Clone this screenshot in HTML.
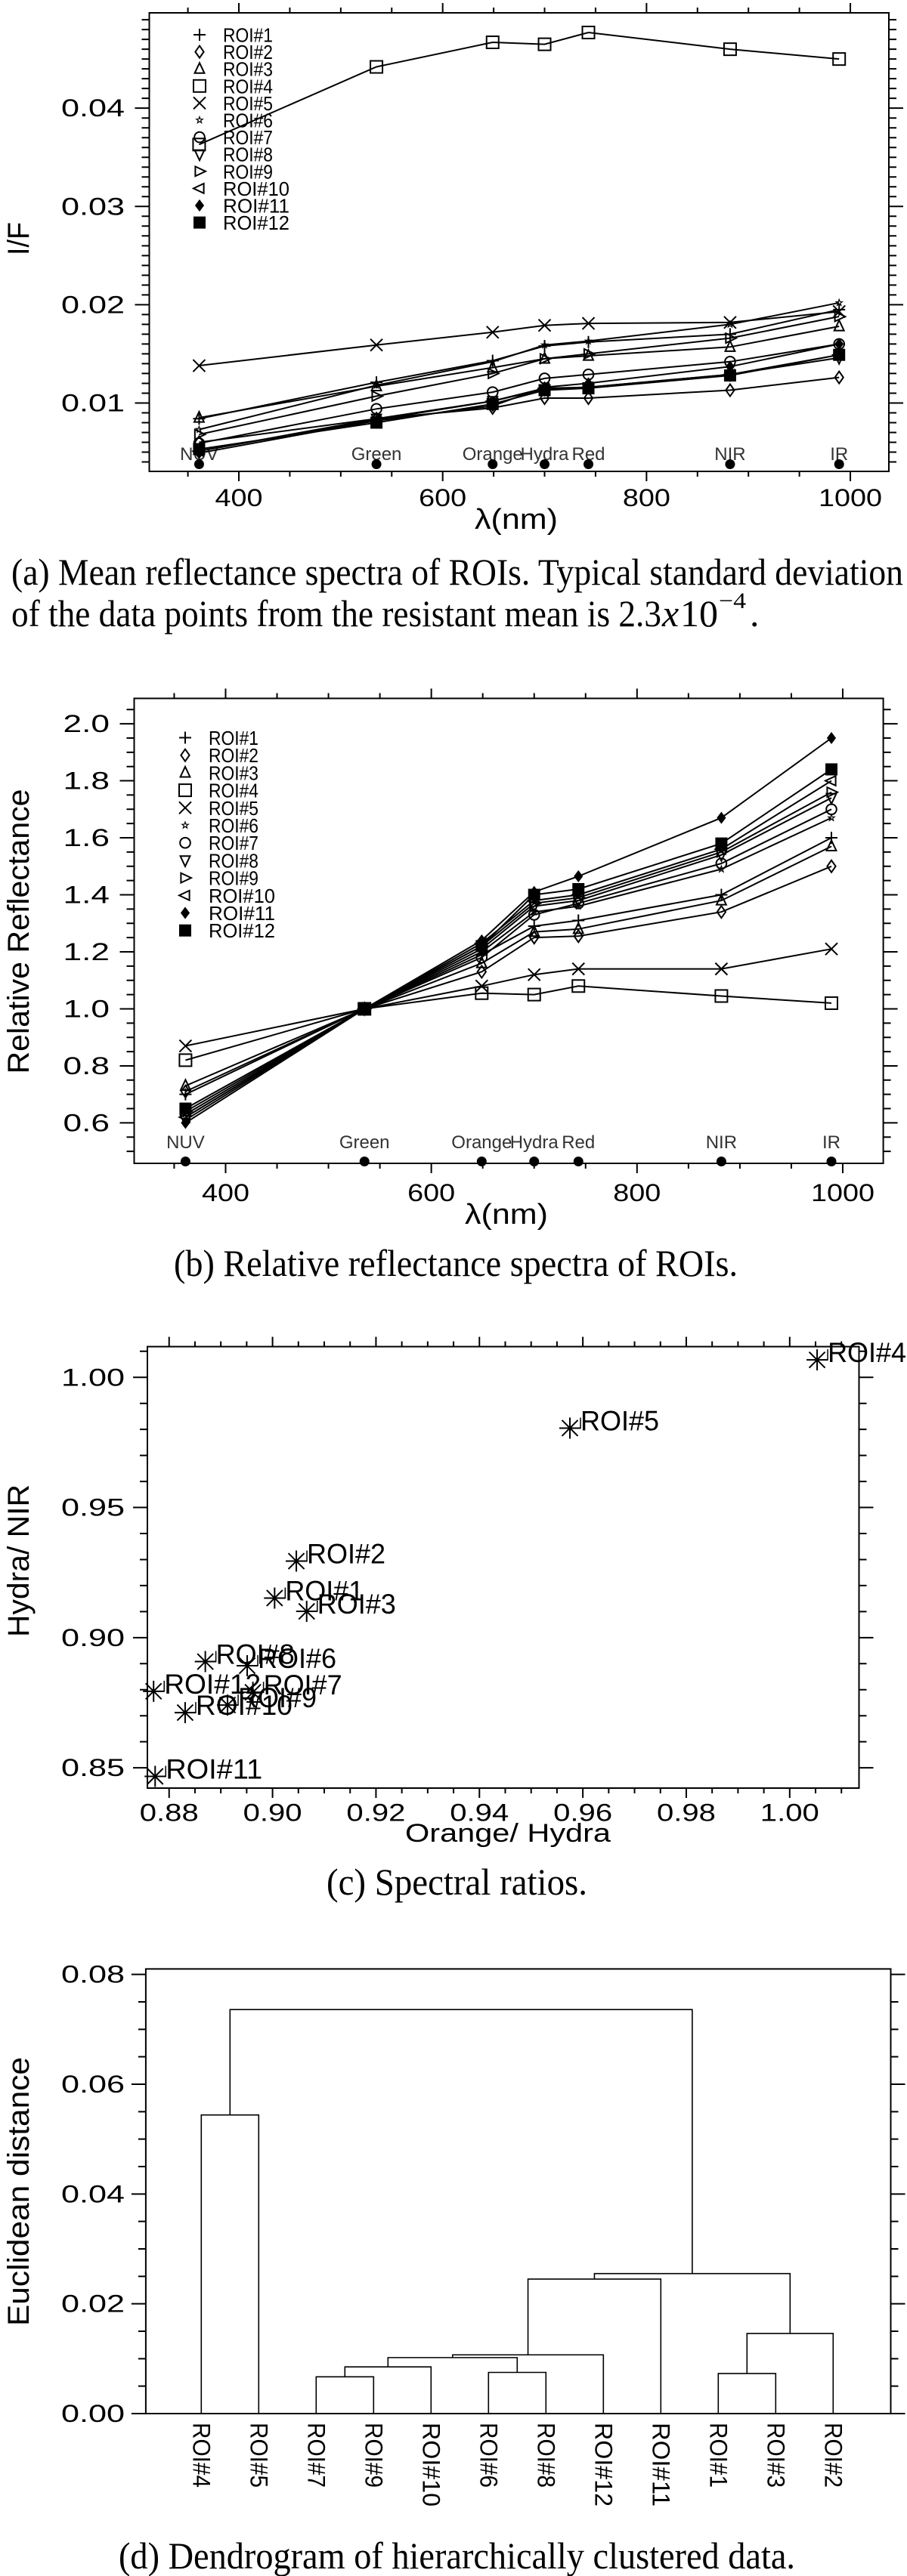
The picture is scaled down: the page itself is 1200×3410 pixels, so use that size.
<!DOCTYPE html>
<html>
<head>
<meta charset="utf-8">
<style>
  html, body { margin: 0; padding: 0; background: #fff; }
  svg { display: block; }
  text { font-family: "Liberation Sans", sans-serif; fill: #000; }
  .cap { font-family: "Liberation Serif", serif; }
</style>
</head>
<body>
<svg id="fig" xmlns="http://www.w3.org/2000/svg" width="1200" height="3410" viewBox="0 0 1200 3410"></svg>
<script>
// ---------- DATA ----------
const bands = ['NUV', 'Green', 'Orange', 'Hydra', 'Red', 'NIR', 'IR'];
const wavelengths = [361, 535, 649, 700, 743, 882, 989];
const roiNames = ['ROI#1','ROI#2','ROI#3','ROI#4','ROI#5','ROI#6','ROI#7','ROI#8','ROI#9','ROI#10','ROI#11','ROI#12'];
const markerTypes = ['plus','diamond','triUp','square','cross','star','circle','triDown','triRight','triLeft','fdiamond','fsquare'];

// (a) mean I/F per ROI
const ifRoi1  = [0.0084, 0.0121, 0.0143, 0.0158, 0.0162, 0.0170, 0.0195];
const ifRoi2  = [0.0060, 0.0084, 0.0095, 0.0105, 0.0105, 0.0113, 0.0126];
const ifRoi3  = [0.0085, 0.0117, 0.0136, 0.0145, 0.0148, 0.0157, 0.0178];
const ifRoi4  = [0.0363, 0.0442, 0.0467, 0.0465, 0.0477, 0.0460, 0.0450];
const ifRoi5  = [0.0138, 0.0159, 0.0172, 0.0179, 0.0181, 0.0182, 0.0193];
const ifRoi6  = [0.0073, 0.0118, 0.0142, 0.0159, 0.0163, 0.0180, 0.0202];
const ifRoi7  = [0.0059, 0.0094, 0.0111, 0.0125, 0.0129, 0.0142, 0.0160];
const ifRoi8  = [0.0051, 0.0084, 0.0102, 0.0114, 0.0116, 0.0129, 0.0146];
const ifRoi9  = [0.0068, 0.0107, 0.0130, 0.0145, 0.0150, 0.0166, 0.0188];
const ifRoi10 = [0.0051, 0.0083, 0.0102, 0.0115, 0.0116, 0.0129, 0.0149];
const ifRoi11 = [0.0049, 0.0082, 0.0097, 0.0116, 0.0120, 0.0137, 0.0160];
const ifRoi12 = [0.0053, 0.0080, 0.0099, 0.0113, 0.0115, 0.0128, 0.0149];

// (b) relative reflectance per ROI
const relRoi1  = [0.70, 1.0, 1.19, 1.29, 1.31, 1.40, 1.60];
const relRoi2  = [0.71, 1.0, 1.13, 1.25, 1.255, 1.34, 1.50];
const relRoi3  = [0.73, 1.0, 1.16, 1.27, 1.28, 1.38, 1.57];
const relRoi4  = [0.82, 1.0, 1.055, 1.05, 1.08, 1.045, 1.02];
const relRoi5  = [0.87, 1.0, 1.08, 1.12, 1.14, 1.14, 1.21];
const relRoi6  = [0.62, 1.0, 1.20, 1.34, 1.36, 1.49, 1.67];
const relRoi7  = [0.63, 1.0, 1.18, 1.33, 1.37, 1.51, 1.70];
const relRoi8  = [0.61, 1.0, 1.21, 1.36, 1.38, 1.54, 1.74];
const relRoi9  = [0.64, 1.0, 1.22, 1.37, 1.39, 1.55, 1.76];
const relRoi10 = [0.62, 1.0, 1.23, 1.38, 1.40, 1.56, 1.80];
const relRoi11 = [0.60, 1.0, 1.24, 1.41, 1.465, 1.67, 1.95];
const relRoi12 = [0.65, 1.0, 1.22, 1.40, 1.42, 1.58, 1.84];

// (c) spectral ratios
const ratioOrangeHydra = [0.9004, 0.9046, 0.9066, 1.0053, 0.9575, 0.8951, 0.8962, 0.8870, 0.8913, 0.8831, 0.8773, 0.8770];
const ratioHydraNir    = [0.9152, 0.9294, 0.9101, 1.0067, 0.9805, 0.8892, 0.8790, 0.8908, 0.8741, 0.8712, 0.8467, 0.8794];

// (d) dendrogram
const leafOrder = ['R4','R5','R7','R9','R10','R6','R8','R12','R11','R1','R3','R2'];
const leafLabels = ['ROI#4','ROI#5','ROI#7','ROI#9','ROI#10','ROI#6','ROI#8','ROI#12','ROI#11','ROI#1','ROI#3','ROI#2'];
const mergeA = ['R4','R7','C1','R6','C2','C4','C5','R1','C7','C6','C0'];
const mergeB = ['R5','R9','R10','R8','C3','R12','R11','R3','R2','C8','C9'];
const mergeHeight = [0.0544, 0.0067, 0.0085, 0.0075, 0.0102, 0.0107, 0.0245, 0.0073, 0.0146, 0.0255, 0.0736];

// tick labels
const xTicksNm = [400, 600, 800, 1000];
const xTickLabelsNm = ['400', '600', '800', '1000'];
const yTicksA = [0.01, 0.02, 0.03, 0.04];
const yTickLabelsA = ['0.01', '0.02', '0.03', '0.04'];
const yTicksB = [0.6, 0.8, 1.0, 1.2, 1.4, 1.6, 1.8, 2.0];
const yTickLabelsB = ['0.6', '0.8', '1.0', '1.2', '1.4', '1.6', '1.8', '2.0'];
const xTicksC = [0.88, 0.90, 0.92, 0.94, 0.96, 0.98, 1.00];
const xTickLabelsC = ['0.88', '0.90', '0.92', '0.94', '0.96', '0.98', '1.00'];
const yTicksC = [0.85, 0.90, 0.95, 1.00];
const yTickLabelsC = ['0.85', '0.90', '0.95', '1.00'];
const yTicksD = [0.00, 0.02, 0.04, 0.06, 0.08];
const yTickLabelsD = ['0.00', '0.02', '0.03', '0.06', '0.08'];
yTickLabelsD[2] = '0.04';

// ---------- HELPERS ----------
const NS = 'http://www.w3.org/2000/svg';
const svg = document.getElementById('fig');
function mk(tag, attrs, parent) {
  const e = document.createElementNS(NS, tag);
  for (const k in attrs) e.setAttribute(k, attrs[k]);
  (parent || svg).appendChild(e);
  return e;
}
function lin(d0, d1, p0, p1) { return v => p0 + (v - d0) / (d1 - d0) * (p1 - p0); }
function txt(parent, s, x, y, size, anchor, len, extra) {
  const a = { x: x, y: y, 'font-size': size, 'text-anchor': anchor || 'start' };
  if (len) { a.textLength = len; a.lengthAdjust = 'spacingAndGlyphs'; }
  if (extra) for (const k in extra) a[k] = extra[k];
  const t = mk('text', a, parent);
  t.textContent = s;
  return t;
}
function ticksOf(min, max, step) {
  const out = [];
  for (let i = Math.ceil(min / step - 1e-9); i <= Math.floor(max / step + 1e-9); i++) out.push(+(i * step).toFixed(6));
  return out;
}
function isMajor(v, majors) { return majors.some(m => Math.abs(m - v) < 1e-6); }

function marker(g, type, x, y, s) {
  const st = { fill: 'none', stroke: '#000', 'stroke-width': 2 };
  let e;
  const P = (pts) => mk('polygon', Object.assign({ points: pts.map(p => p.join(',')).join(' ') }, st), g);
  switch (type) {
    case 'plus': e = mk('path', Object.assign({ d: `M${x-s},${y}H${x+s}M${x},${y-s}V${y+s}` }, st), g); break;
    case 'cross': e = mk('path', Object.assign({ d: `M${x-s},${y-s}L${x+s},${y+s}M${x-s},${y+s}L${x+s},${y-s}` }, st), g); break;
    case 'diamond': e = P([[x, y-s], [x+s*0.7, y], [x, y+s], [x-s*0.7, y]]); break;
    case 'fdiamond': e = P([[x, y-s*0.8], [x+s*0.6, y], [x, y+s*0.8], [x-s*0.6, y]]); e.setAttribute('fill', '#000'); break;
    case 'triUp': e = P([[x, y-s], [x+s*0.8, y+s*0.7], [x-s*0.8, y+s*0.7]]); break;
    case 'triDown': e = P([[x, y+s], [x+s*0.8, y-s*0.7], [x-s*0.8, y-s*0.7]]); break;
    case 'triRight': e = P([[x+s, y], [x-s*0.7, y-s*0.8], [x-s*0.7, y+s*0.8]]); break;
    case 'triLeft': e = P([[x-s, y], [x+s*0.7, y-s*0.8], [x+s*0.7, y+s*0.8]]); break;
    case 'square': e = mk('rect', Object.assign({ x: x-s, y: y-s, width: 2*s, height: 2*s }, st), g); break;
    case 'fsquare': e = mk('rect', { x: x-s, y: y-s, width: 2*s, height: 2*s, fill: '#000' }, g); break;
    case 'circle': e = mk('circle', Object.assign({ cx: x, cy: y, r: s*0.85 }, st), g); break;
    case 'star': {
      const pts = [];
      for (let i = 0; i < 10; i++) {
        const r = (i % 2 === 0) ? s*0.55 : s*0.22;
        const a = -Math.PI/2 + i*Math.PI/5;
        pts.push([+(x + r*Math.cos(a)).toFixed(2), +(y + r*Math.sin(a)).toFixed(2)]);
      }
      e = mk('polygon', { points: pts.map(p => p.join(',')).join(' '), fill: 'none', stroke: '#000', 'stroke-width': 1.2 }, g);
      break;
    }
  }
  return e;
}

function frame(g, box, name) {
  const r = mk('rect', { x: box.x0, y: box.y0, width: box.x1 - box.x0, height: box.y1 - box.y0, fill: 'none', stroke: '#000', 'stroke-width': 2 }, g);
  
  
}
// outward ticks
function xTickMarks(g, box, xs, min, max, majorVals, minorStep, labels, labelY, labelLen, name) {
  const all = ticksOf(min, max, minorStep);
  all.forEach(v => {
    const x = xs(v);
    const maj = isMajor(v, majorVals);
    const L = maj ? 13 : 7;
    const t = mk('path', { d: `M${x},${box.y0}V${box.y0-L}M${x},${box.y1}V${box.y1+L}`, stroke: '#000', 'stroke-width': 2 }, g);
    
    
  });
  majorVals.forEach((v, i) => {
    const t = txt(g, labels[i], xs(v), labelY, 32, 'middle', labels[i].length * labelLen);
    
    
  });
}
function yTickMarks(g, box, ys, min, max, majorVals, minorStep, labels, labelX, labelLen, name) {
  const all = ticksOf(min, max, minorStep);
  all.forEach(v => {
    const y = ys(v);
    const maj = isMajor(v, majorVals);
    const L = maj ? 19 : 10;
    const t = mk('path', { d: `M${box.x0},${y}H${box.x0-L}M${box.x1},${y}H${box.x1+L}`, stroke: '#000', 'stroke-width': 2 }, g);
    
    
  });
  majorVals.forEach((v, i) => {
    const t = txt(g, labels[i], labelX, ys(v) + 11, 32, 'end', labels[i].length * labelLen);
    
    
  });
}
function yTitle(g, s, cx, cy, len) {
  const t = txt(g, s, 0, 0, 40, 'middle', len, { transform: `translate(${cx + 14},${cy}) rotate(-90)` });
  
  
}
function caption(s, x, y, len, name) {
  const t = txt(svg, s, x, y, 50, 'start', len, { class: 'cap' });
  
  
  return t;
}

// ---------- spectra panels ----------
function spectraPanel(name, box, xd, yd, seriesArr, yTicks, yLabels, yMinor, yLabelX, bandY, dotY, legendY0, legendStep, legendX, xLabY, lamY, lamX) {
  const g = mk('g', {});
  
  
  const xs = lin(xd[0], xd[1], box.x0, box.x1);
  const ys = lin(yd[0], yd[1], box.y1, box.y0);
  frame(g, box, 'plot-frame');
  xTickMarks(g, box, xs, xd[0], xd[1], xTicksNm, 50, xTickLabelsNm, xLabY, 21, name);
  yTickMarks(g, box, ys, yd[0], yd[1], yTicks, yMinor, yLabels, yLabelX, name === 'panel-a' ? 21 : 20.5, name);
  const lam = txt(g, 'λ(nm)', lamX, lamY, 38, 'middle', 110);
  
  
  // band labels & dots
  bands.forEach((b, i) => {
    const x = xs(wavelengths[i]);
    const t = txt(g, b, x, bandY, 24, 'middle', null, { fill: '#222' });
    t.style.fill = '#333';
    
    
    const d = mk('circle', { cx: x, cy: dotY, r: 6.5, fill: '#000' }, g);
    
    
  });
  // series
  seriesArr.forEach((vals, si) => {
    const sg = mk('g', {}, g);
    
    
    const pts = vals.map((v, i) => xs(wavelengths[i]).toFixed(1) + ',' + ys(v).toFixed(1)).join(' ');
    const pl = mk('polyline', { points: pts, fill: 'none', stroke: '#000', 'stroke-width': 2 }, sg);
    
    
    vals.forEach((v, i) => {
      const m = marker(sg, markerTypes[si], xs(wavelengths[i]), ys(v), 8);
      
      
    });
  });
  // legend
  const lg = mk('g', {}, g);
  
  
  roiNames.forEach((n, i) => {
    const y = legendY0 + i * legendStep;
    const m = marker(lg, markerTypes[i], legendX, y, 8);
    
    
    const t = txt(lg, n, legendX + 31, y + 9.5, 26, 'start', n.length === 5 ? 66 : 88);
    
    
  });
  return g;
}

const seriesA = [ifRoi1, ifRoi2, ifRoi3, ifRoi4, ifRoi5, ifRoi6, ifRoi7, ifRoi8, ifRoi9, ifRoi10, ifRoi11, ifRoi12];
const seriesB = [relRoi1, relRoi2, relRoi3, relRoi4, relRoi5, relRoi6, relRoi7, relRoi8, relRoi9, relRoi10, relRoi11, relRoi12];

const gA = spectraPanel('panel-a', { x0: 197.5, y0: 17, x1: 1176, y1: 624 }, [312.1, 1037.8], [0.00304, 0.0497],
  seriesA, yTicksA, yTickLabelsA, 0.001, 165, 609, 614.5, 46, 22.6, 264, 670, 700, 683);
yTitle(gA, 'I/F', 24, 316, 44);

const gB = spectraPanel('panel-b', { x0: 177.5, y0: 924.5, x1: 1168.6, y1: 1540 }, [311.1, 1039.4], [0.458, 2.089],
  seriesB, yTicksB, yTickLabelsB, 0.05, 145, 1520, 1537.5, 976.5, 23.2, 245, 1590, 1620, 670);
yTitle(gB, 'Relative  Reflectance', 24, 1233, 377);

caption('(a) Mean reflectance spectra of ROIs. Typical standard deviation', 15, 774, 1180, 'caption-a-line-1');
const c2 = caption('of the data points from the resistant mean is 2.3', 15, 829, 860, 'caption-a-line-2');
const c2b = txt(svg, 'x', 876, 829, 50, 'start', null, { class: 'cap', 'font-style': 'italic' });


const c2c = txt(svg, '10', 900, 829, 50, 'start', 50, { class: 'cap' });


const c2d = txt(svg, '−4', 951, 805, 30, 'start', 36, { class: 'cap' });


const c2e = txt(svg, '.', 992, 829, 50, 'start', null, { class: 'cap' });


caption('(b) Relative reflectance spectra of ROIs.', 230, 1689, 746, 'caption-b');

// ---------- (c) scatter ----------
(function () {
  const g = mk('g', {});
  
  
  const box = { x0: 195, y0: 1782.6, x1: 1136.5, y1: 2367 };
  const xs = lin(0.8758, 1.0134, box.x0, box.x1);
  const ys = lin(0.8422, 1.0118, box.y1, box.y0);
  frame(g, box, 'plot-frame');
  xTickMarks(g, box, xs, 0.8758, 1.0134, xTicksC, 0.005, xTickLabelsC, 2410.5, 19.5, 'panel-c');
  yTickMarks(g, box, ys, 0.8422, 1.0118, yTicksC, 0.01, yTickLabelsC, 165, 21, 'panel-c');
  const xt = txt(g, 'Orange/ Hydra', 672, 2438, 34, 'middle', 272);
  
  
  yTitle(g, 'Hydra/ NIR', 24, 2066, 202);
  roiNames.forEach((n, i) => {
    const px = xs(ratioOrangeHydra[i]), py = ys(ratioHydraNir[i]);
    const s = 14;
    const p = mk('path', { d: `M${px},${py-s}V${py+s}M${px-s},${py}H${px+s}M${px-s*0.75},${py-s*0.75}L${px+s*0.75},${py+s*0.75}M${px-s*0.75},${py+s*0.75}L${px+s*0.75},${py-s*0.75}`, stroke: '#000', 'stroke-width': 2, fill: 'none' }, g);
    
    
    const l = mk('path', { d: `M${px},${py}H${px+14}V${py-14}`, stroke: '#000', 'stroke-width': 1.5, fill: 'none' }, g);
    
    
    const t = txt(g, n, px + 14, py + 3, 37, 'start', n.length === 5 ? 104 : 128);
    
    
  });
})();
caption('(c) Spectral ratios.', 432, 2508, 345, 'caption-c');

// ---------- (d) dendrogram ----------
(function () {
  const g = mk('g', {});
  
  
  const box = { x0: 192.9, y0: 2606.4, x1: 1178.5, y1: 3195 };
  const ys = lin(0, 0.081, box.y1, box.y0);
  const xLeaf = i => 266.3 + i * 76;
  frame(g, box, 'plot-frame');
  yTickMarks(g, box, ys, 0, 0.081, yTicksD, 0.005, yTickLabelsD, 165, 21, 'panel-d');
  yTitle(g, 'Euclidean  distance', 24, 2901, 356);
  const pos = {}, top = {};
  leafOrder.forEach((id, i) => { pos[id] = xLeaf(i); top[id] = 0; });
  mergeA.forEach((a, k) => {
    const b = mergeB[k], h = mergeHeight[k];
    const xa = pos[a], xb = pos[b], yh = ys(h);
    const p = mk('path', { d: `M${xa},${ys(top[a])}V${yh}H${xb}V${ys(top[b])}`, stroke: '#000', 'stroke-width': 1.6, fill: 'none' }, g);
    
    
    pos['C' + k] = (xa + xb) / 2;
    top['C' + k] = h;
  });
  leafLabels.forEach((n, i) => {
    const t = txt(g, n, 0, 0, 32, 'start', n.length === 5 ? 86 : 111, { transform: `translate(${xLeaf(i) - 11},3207) rotate(90)` });
    
    
  });
})();
caption('(d) Dendrogram of hierarchically clustered data.', 157, 3400, 895, 'caption-d');
</script>
</body>
</html>
